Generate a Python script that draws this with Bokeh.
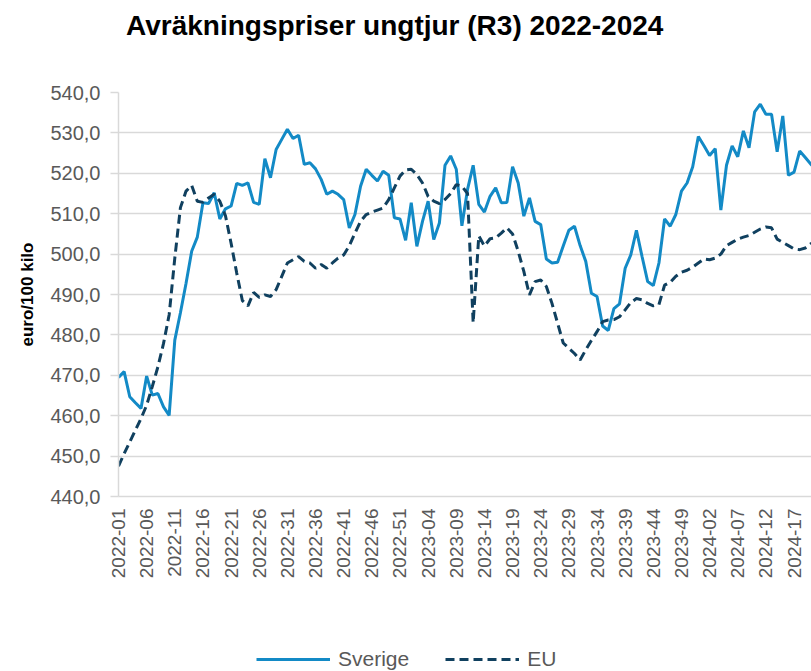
import math
from bokeh.plotting import figure
from bokeh.layouts import column
from bokeh.models import FixedTicker, Legend, LegendItem, ColumnDataSource, Range1d, Label
from bokeh.embed import file_html
from bokeh.resources import INLINE

years = [2022, 2023, 2024]
weeks_in_year = [52, 52, 21]
week_labels = [f"{y}-{w:02d}" for y, n in zip(years, weeks_in_year) for w in range(1, n + 1)]

sverige = [469.5, 470.9, 464.7, 463.2, 461.8, 469.8, 465.1, 465.5, 462.2, 460.1,
           478.7, 485.5, 492.8, 500.7, 504.2, 512.7, 512.5, 515.2, 508.7, 511.2,
           511.9, 517.5, 517.0, 517.6, 512.8, 512.3, 523.6, 518.9, 525.9, 528.4,
           530.9, 528.6, 529.4, 522.2, 522.6, 521.1, 518.5, 514.8, 515.6, 514.8,
           513.5, 506.5, 509.8, 516.8, 521.0, 519.5, 518.1, 520.5, 519.5, 509.0,
           508.7, 503.4, 512.7, 501.9, 508.1, 513.1, 503.6, 507.7, 522.0, 524.3,
           521.0, 507.0, 516.0, 522.0, 512.3, 510.4, 514.3, 516.4, 512.7, 512.8,
           521.6, 517.6, 509.4, 513.9, 508.1, 507.3, 498.8, 497.8, 498.0, 502.0,
           505.9, 506.9, 502.1, 498.2, 490.3, 489.5, 482.2, 481.1, 486.5, 487.7,
           496.5, 499.8, 505.9, 499.4, 493.2, 492.2, 497.8, 508.7, 506.9, 509.8,
           515.6, 517.6, 521.6, 529.1, 526.8, 524.4, 526.1, 510.9, 522.0, 526.8,
           524.1, 530.5, 526.3, 535.2, 537.1, 534.6, 534.6, 525.3, 534.2, 519.5,
           520.3, 525.5, 523.9, 522.2, 521.0]

eu = [447.5, 450.6, 453.5, 456.4, 459.3, 462.6, 467.2, 472.1, 477.9, 485.0,
      499.0, 511.5, 515.6, 517.0, 513.1, 512.8, 513.9, 514.8, 513.1, 509.5,
      502.7, 495.3, 488.5, 487.2, 490.5, 489.3, 489.9, 489.5, 491.2, 494.5,
      497.8, 498.6, 499.4, 498.2, 497.8, 496.5, 497.4, 496.5, 497.8, 499.0,
      499.8, 502.1, 505.2, 508.1, 509.8, 510.4, 510.9, 511.4, 513.5, 516.4,
      519.3, 520.8, 521.0, 519.7, 517.6, 514.3, 513.1, 512.5, 513.5, 515.0,
      517.2, 516.8, 515.0, 483.0, 504.5, 502.0, 503.8, 504.0, 505.2, 506.5,
      505.0, 500.7, 495.7, 489.9, 493.2, 493.6, 492.0, 487.8, 482.9, 478.0,
      476.7, 475.4, 473.8, 476.3, 478.6, 480.8, 483.3, 483.7, 483.8, 484.5,
      486.2, 488.0, 489.0, 488.7, 487.8, 487.2, 487.5, 492.3, 493.0, 494.5,
      495.5, 496.0, 496.8, 497.8, 498.8, 498.6, 499.0, 500.0, 502.1, 502.9,
      503.7, 504.2, 504.6, 505.4, 506.2, 506.7, 506.5, 503.7, 502.9, 502.1,
      501.3, 501.1, 501.5, 502.6, 503.0]

y_ticks = [440, 450, 460, 470, 480, 490, 500, 510, 520, 530, 540]
title_text = "Avräkningspriser  ungtjur (R3)  2022-2024"
series_names = ["Sverige", "EU"]

n = len(sverige)
src = ColumnDataSource(dict(x=list(range(n)), sverige=sverige, eu=eu[:n]))

FONT = "Liberation Sans"
GREY = "#595959"
GRID = "#d9d9d9"
C_SE = "#138ac6"
C_EU = "#10405f"
W = 811
LEFT = 118  # frames of all strips are aligned to the main frame's left edge


def bare(fig):
    fig.axis.visible = False
    fig.grid.grid_line_color = None
    fig.outline_line_color = None
    fig.background_fill_color = "white"
    fig.border_fill_color = "white"
    return fig


# ---- title strip ----
tfig = bare(figure(width=W, height=46, output_backend="svg", toolbar_location=None,
                   x_range=Range1d(0, 1), y_range=Range1d(0, 1), min_border=0))
tfig.add_layout(Label(x=402 - LEFT, y=21, x_units="screen", y_units="screen", text=title_text,
                      text_font=FONT, text_font_size="28px", text_font_style="bold",
                      text_color="black", text_align="center", text_baseline="middle"))

# ---- main chart ----
p = figure(width=W, height=599, output_backend="svg", toolbar_location=None,
           x_range=Range1d(0, 123.1), y_range=Range1d(440, 540),
           min_border_left=LEFT, min_border_right=0, min_border_top=46,
           min_border_bottom=149)
p.outline_line_color = None
p.background_fill_color = "white"
p.border_fill_color = "white"

p.yaxis.ticker = FixedTicker(ticks=y_ticks)
p.yaxis.major_label_overrides = {t: f"{t:.1f}".replace(".", ",") for t in y_ticks}
p.yaxis.major_label_text_font = FONT
p.yaxis.major_label_text_font_size = "20px"
p.yaxis.major_label_text_color = GREY
p.yaxis.axis_line_color = GRID
p.yaxis.axis_line_width = 1.5
p.yaxis.major_tick_line_color = GRID
p.yaxis.major_tick_line_width = 1.5
p.yaxis.major_tick_out = 8
p.yaxis.major_tick_in = 0
p.yaxis.minor_tick_line_color = None
p.yaxis.major_label_standoff = 10
p.yaxis.axis_label = "euro/100 kilo"
p.yaxis.axis_label_text_font = FONT
p.yaxis.axis_label_text_font_size = "17px"
p.yaxis.axis_label_text_font_style = "bold"
p.yaxis.axis_label_text_color = "black"
p.yaxis.axis_label_standoff = 10

x_ticks = list(range(0, n, 5))
p.xaxis.ticker = FixedTicker(ticks=x_ticks)
p.xaxis.major_label_overrides = {i: week_labels[i] for i in x_ticks}
p.xaxis.major_label_orientation = math.pi / 2
p.xaxis.major_label_text_font = FONT
p.xaxis.major_label_text_font_size = "19px"
p.xaxis.major_label_text_color = GREY
p.xaxis.axis_line_color = GRID
p.xaxis.axis_line_width = 1.5
p.xaxis.major_tick_line_color = None
p.xaxis.minor_tick_line_color = None
p.xaxis.major_label_standoff = 6

p.xgrid.grid_line_color = None
p.ygrid.ticker = FixedTicker(ticks=y_ticks)
p.ygrid.grid_line_color = GRID
p.ygrid.grid_line_width = 1.5

p.line("x", "sverige", source=src, line_color=C_SE, line_width=3)
p.line("x", "eu", source=src, line_color=C_EU, line_width=3, line_dash="9 5")

# ---- legend strip ----
lfig = bare(figure(width=W, height=26, output_backend="svg", toolbar_location=None,
                   x_range=Range1d(0, 1), y_range=Range1d(0, 1), min_border=0))
d1 = lfig.line(x=[-5, -4], y=[-5, -5], line_color=C_SE, line_width=3)
d2 = lfig.line(x=[-5, -4], y=[-5, -5], line_color=C_EU, line_width=3, line_dash="9 5")
legend = Legend(items=[LegendItem(label=series_names[0], renderers=[d1]),
                       LegendItem(label=series_names[1], renderers=[d2])],
                orientation="horizontal", location=(256 - LEFT, 0),
                label_text_font=FONT, label_text_font_size="21px",
                label_text_color=GREY, glyph_width=74, glyph_height=20,
                label_standoff=8, spacing=36, border_line_color=None,
                background_fill_alpha=0, margin=0, padding=2)
lfig.add_layout(legend, "center")

layout = column(tfig, p, lfig, spacing=0)
open("out.html", "w").write(file_html(layout, INLINE))
